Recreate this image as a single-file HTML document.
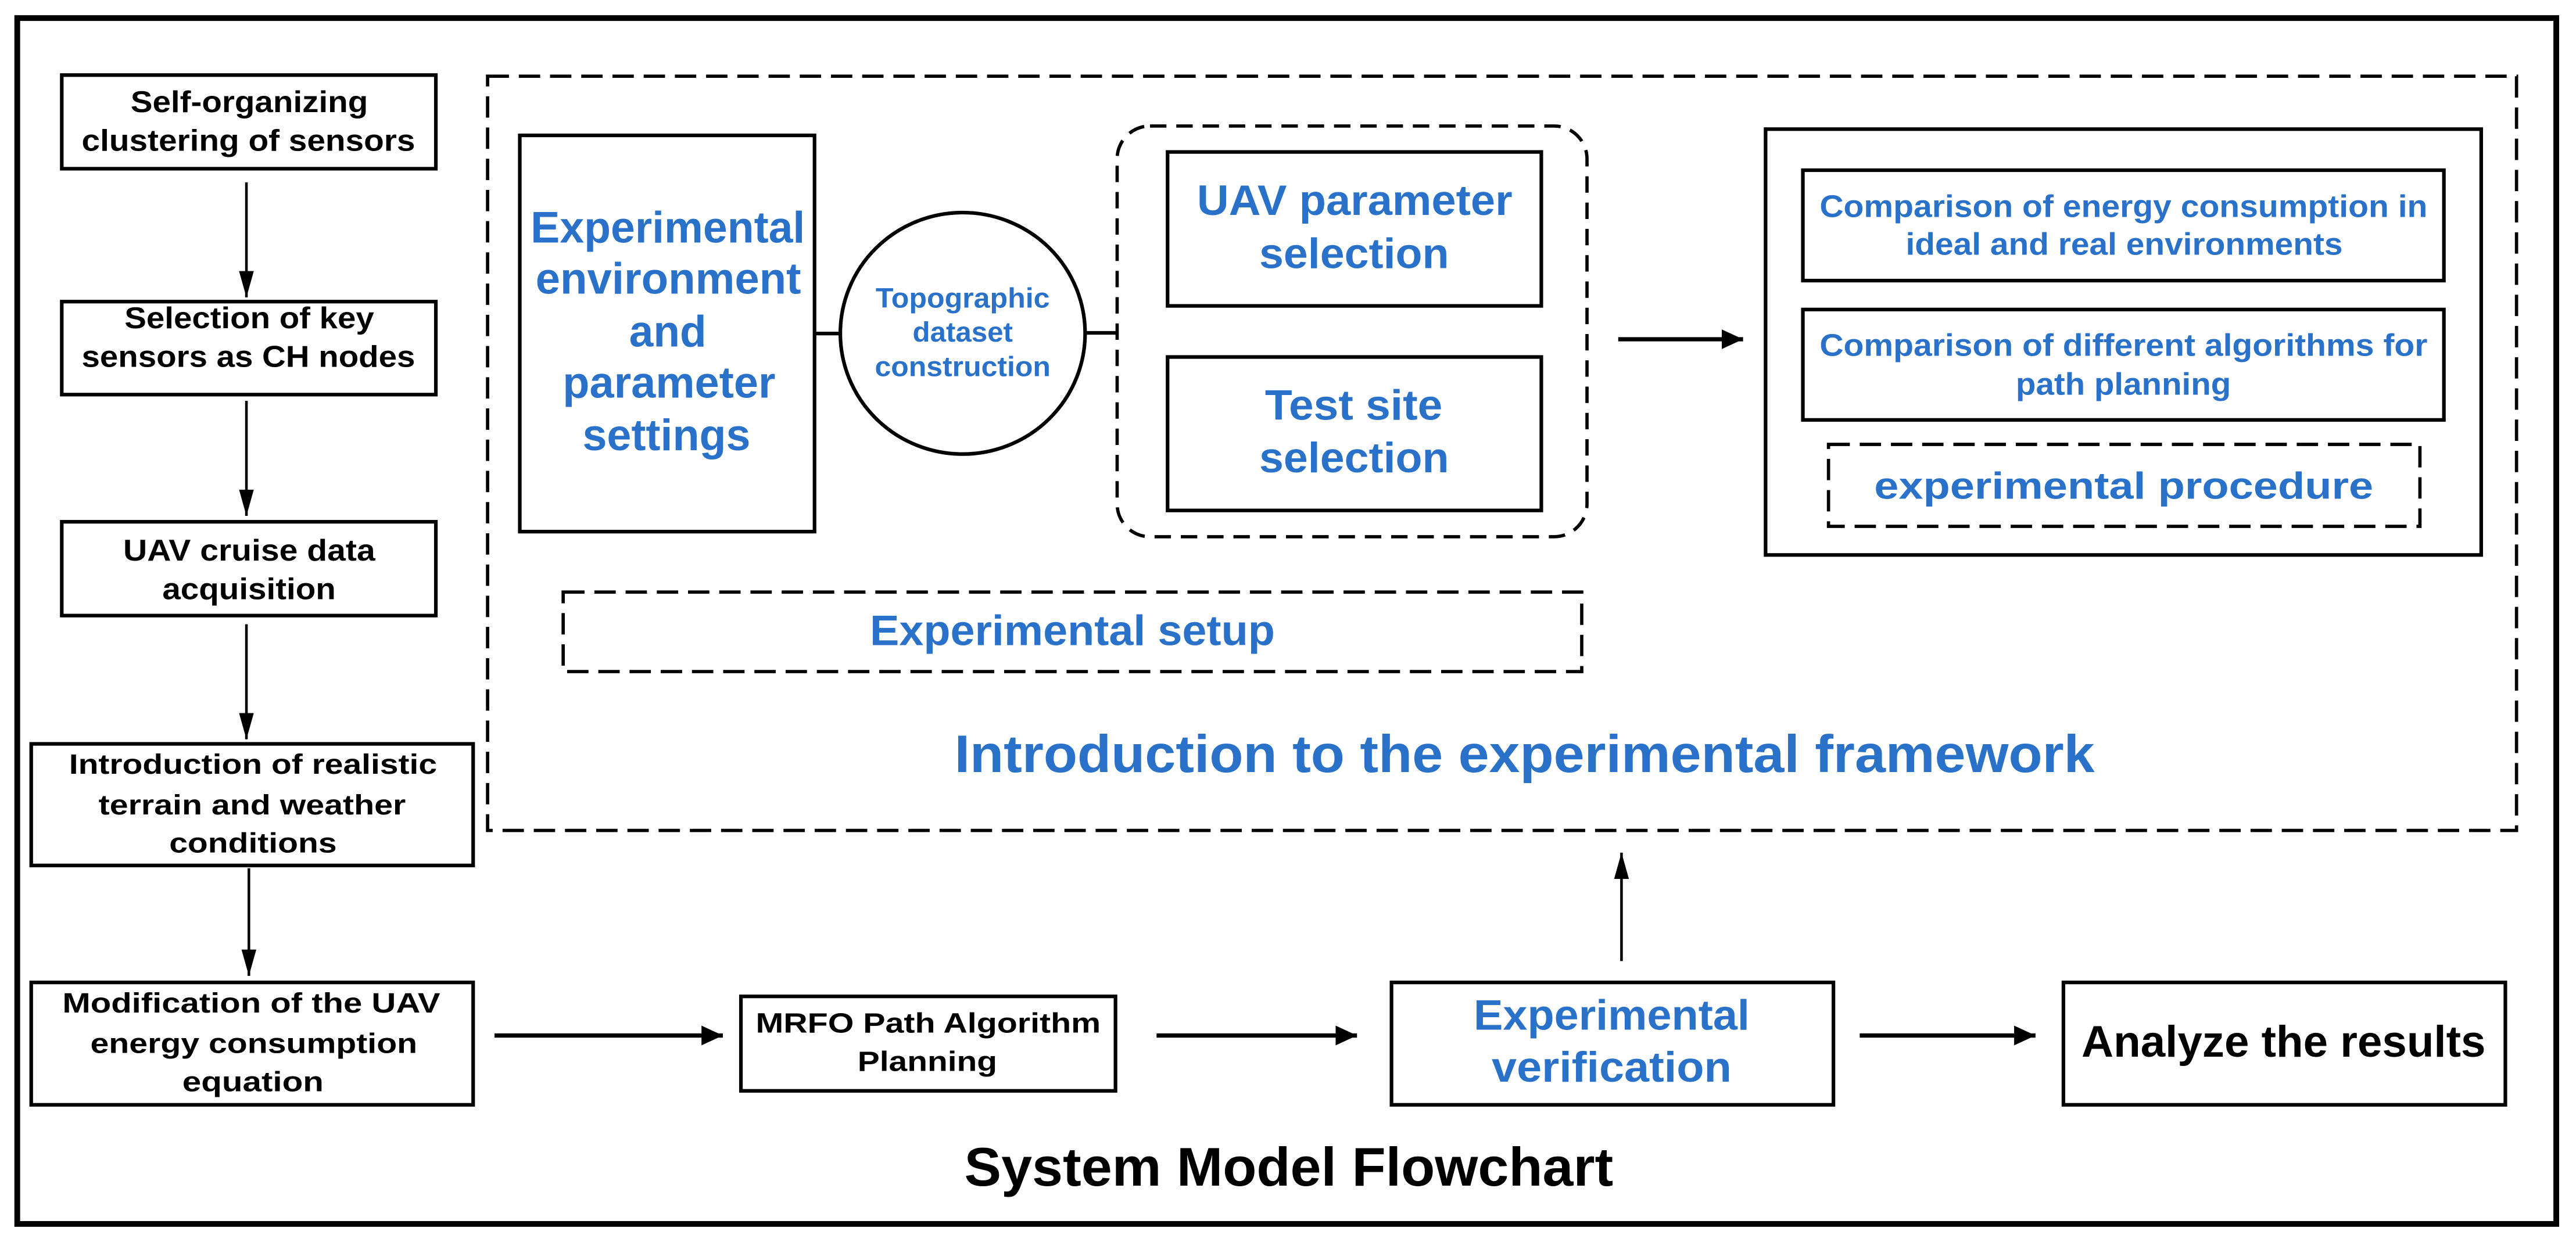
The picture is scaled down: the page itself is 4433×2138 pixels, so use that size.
<!DOCTYPE html>
<html><head><meta charset="utf-8"><style>
html,body{margin:0;padding:0;background:#fff;}
svg{display:block;}
text{font-family:"Liberation Sans",Arial,sans-serif;font-weight:bold;}
.k{fill:#000;}
.b{fill:#2A72C9;}
</style></head><body>
<svg width="4433" height="2138" viewBox="0 0 1568 756" preserveAspectRatio="none" xmlns="http://www.w3.org/2000/svg">
<defs>
<marker id="ah" markerWidth="16" markerHeight="9" refX="16" refY="4.5" orient="auto" markerUnits="userSpaceOnUse">
<path d="M0,0 L16,4.5 L0,9 Z" fill="#000"/></marker>
<marker id="ah2" markerWidth="13" markerHeight="12" refX="13" refY="6" orient="auto" markerUnits="userSpaceOnUse">
<path d="M0,0 L13,6 L0,12 Z" fill="#000"/></marker>
</defs>
<rect x="0" y="0" width="1568" height="756" fill="#fff"/>
<rect x="10.5" y="11" width="1545.5" height="734" fill="none" stroke="#000" stroke-width="3.5"/>

<g fill="none" stroke="#000" stroke-width="2.2">
<rect x="37.6" y="45.7" width="227.7" height="57"/>
<rect x="37.6" y="183.6" width="227.7" height="56.6"/>
<rect x="37.6" y="317.6" width="227.7" height="57.1"/>
<rect x="19" y="452.8" width="269" height="74"/>
<rect x="19" y="598" width="269" height="74.5"/>
<rect x="451" y="606.5" width="228" height="57.5"/>
<rect x="847" y="598" width="269" height="74.5"/>
<rect x="1256" y="598" width="269" height="74.5"/>
<rect x="316.4" y="82.4" width="179.4" height="241.2"/>
<rect x="710.7" y="92.5" width="227.5" height="93.7"/>
<rect x="710.7" y="217.3" width="227.5" height="93.4"/>
<rect x="1074.7" y="78.6" width="435.6" height="259.2"/>
<rect x="1097.4" y="103.6" width="390.2" height="67.2"/>
<rect x="1097.4" y="188.4" width="390.2" height="67.2"/>
<ellipse cx="586" cy="202.9" rx="74.5" ry="73.5"/>
<line x1="495.8" y1="203" x2="511.5" y2="203"/>
<line x1="660.5" y1="202.6" x2="680" y2="202.6"/>
</g>

<g fill="none" stroke="#000" stroke-width="2" stroke-dasharray="13 6">
<rect x="296.8" y="46.4" width="1235" height="459.1"/>
<rect x="342.8" y="360.4" width="620" height="48.4"/>
<rect x="1113" y="270.5" width="360" height="49.9"/>
<rect x="680" y="76.7" width="286" height="250" rx="20" ry="20" stroke-dasharray="10 6"/>
</g>

<g stroke="#000" stroke-width="1.6" fill="none">
<line x1="150" y1="111" x2="150" y2="181" marker-end="url(#ah)"/>
<line x1="150" y1="244" x2="150" y2="314" marker-end="url(#ah)"/>
<line x1="150" y1="380" x2="150" y2="450" marker-end="url(#ah)"/>
<line x1="151.5" y1="528.5" x2="151.5" y2="594" marker-end="url(#ah)"/>
<line x1="987" y1="585" x2="987" y2="519" marker-end="url(#ah)"/>
</g>
<g stroke="#000" stroke-width="2.6" fill="none">
<line x1="301" y1="630.3" x2="440" y2="630.3" marker-end="url(#ah2)"/>
<line x1="704" y1="630.3" x2="826" y2="630.3" marker-end="url(#ah2)"/>
<line x1="1132" y1="630.3" x2="1239" y2="630.3" marker-end="url(#ah2)"/>
<line x1="985" y1="206.5" x2="1061" y2="206.5" marker-end="url(#ah2)"/>
</g>

<g class="k" font-size="18.5">
<text x="79.5" y="68.2" textLength="144.5" lengthAdjust="spacingAndGlyphs">Self-organizing</text>
<text x="49.7" y="91.8" textLength="203" lengthAdjust="spacingAndGlyphs">clustering of sensors</text>
<text x="75.8" y="199.8" textLength="151.9" lengthAdjust="spacingAndGlyphs">Selection of key</text>
<text x="49.7" y="223.3" textLength="203" lengthAdjust="spacingAndGlyphs">sensors as CH nodes</text>
<text x="75" y="341.2" textLength="153.4" lengthAdjust="spacingAndGlyphs">UAV cruise data</text>
<text x="98.8" y="364.8" textLength="105.6" lengthAdjust="spacingAndGlyphs">acquisition</text>
</g>
<g class="k" font-size="17">
<text x="42" y="471" textLength="224" lengthAdjust="spacingAndGlyphs">Introduction of realistic</text>
<text x="60" y="495.7" textLength="187" lengthAdjust="spacingAndGlyphs">terrain and weather</text>
<text x="103" y="519" textLength="102" lengthAdjust="spacingAndGlyphs">conditions</text>
<text x="38" y="616.3" textLength="230" lengthAdjust="spacingAndGlyphs">Modification of the UAV</text>
<text x="55" y="640.9" textLength="199" lengthAdjust="spacingAndGlyphs">energy consumption</text>
<text x="111" y="664.3" textLength="86" lengthAdjust="spacingAndGlyphs">equation</text>
<text x="460" y="628.5" textLength="210" lengthAdjust="spacingAndGlyphs">MRFO Path Algorithm</text>
<text x="522" y="651.9" textLength="85" lengthAdjust="spacingAndGlyphs">Planning</text>
</g>
<text class="k" x="1267" y="643.2" font-size="27" textLength="246" lengthAdjust="spacingAndGlyphs">Analyze the results</text>
<text class="k" x="587" y="721.7" font-size="33" textLength="395" lengthAdjust="spacingAndGlyphs">System Model Flowchart</text>

<g class="b" font-size="27">
<text x="323" y="147.6" textLength="167" lengthAdjust="spacingAndGlyphs">Experimental</text>
<text x="326" y="178.7" textLength="161.6" lengthAdjust="spacingAndGlyphs">environment</text>
<text x="383" y="210.9" textLength="47" lengthAdjust="spacingAndGlyphs">and</text>
<text x="342.5" y="242" textLength="129.5" lengthAdjust="spacingAndGlyphs">parameter</text>
<text x="354.6" y="274" textLength="102.2" lengthAdjust="spacingAndGlyphs">settings</text>
</g>
<g class="b" font-size="17">
<text x="533" y="187.3" textLength="106" lengthAdjust="spacingAndGlyphs">Topographic</text>
<text x="555.5" y="208" textLength="61" lengthAdjust="spacingAndGlyphs">dataset</text>
<text x="532.5" y="229" textLength="107" lengthAdjust="spacingAndGlyphs">construction</text>
</g>
<g class="b" font-size="26">
<text x="728.6" y="130.9" textLength="192" lengthAdjust="spacingAndGlyphs">UAV parameter</text>
<text x="766.5" y="163.2" textLength="115.5" lengthAdjust="spacingAndGlyphs">selection</text>
<text x="770" y="255.4" textLength="108" lengthAdjust="spacingAndGlyphs">Test site</text>
<text x="766.5" y="287.5" textLength="115.5" lengthAdjust="spacingAndGlyphs">selection</text>
<text x="529.5" y="392.6" textLength="246.5" lengthAdjust="spacingAndGlyphs">Experimental setup</text>
<text x="897" y="626.8" textLength="168" lengthAdjust="spacingAndGlyphs">Experimental</text>
<text x="908" y="658.4" textLength="146" lengthAdjust="spacingAndGlyphs">verification</text>
</g>
<g class="b" font-size="19">
<text x="1107.6" y="132" textLength="370" lengthAdjust="spacingAndGlyphs">Comparison of energy consumption in</text>
<text x="1160" y="155" textLength="266" lengthAdjust="spacingAndGlyphs">ideal and real environments</text>
<text x="1107.6" y="216.6" textLength="370" lengthAdjust="spacingAndGlyphs">Comparison of different algorithms for</text>
<text x="1227" y="240.3" textLength="131" lengthAdjust="spacingAndGlyphs">path planning</text>
</g>
<text class="b" x="1140.8" y="303.5" font-size="23" textLength="303.8" lengthAdjust="spacingAndGlyphs">experimental procedure</text>
<text class="b" x="581" y="469.9" font-size="32" textLength="694" lengthAdjust="spacingAndGlyphs">Introduction to the experimental framework</text>
</svg>
</body></html>
